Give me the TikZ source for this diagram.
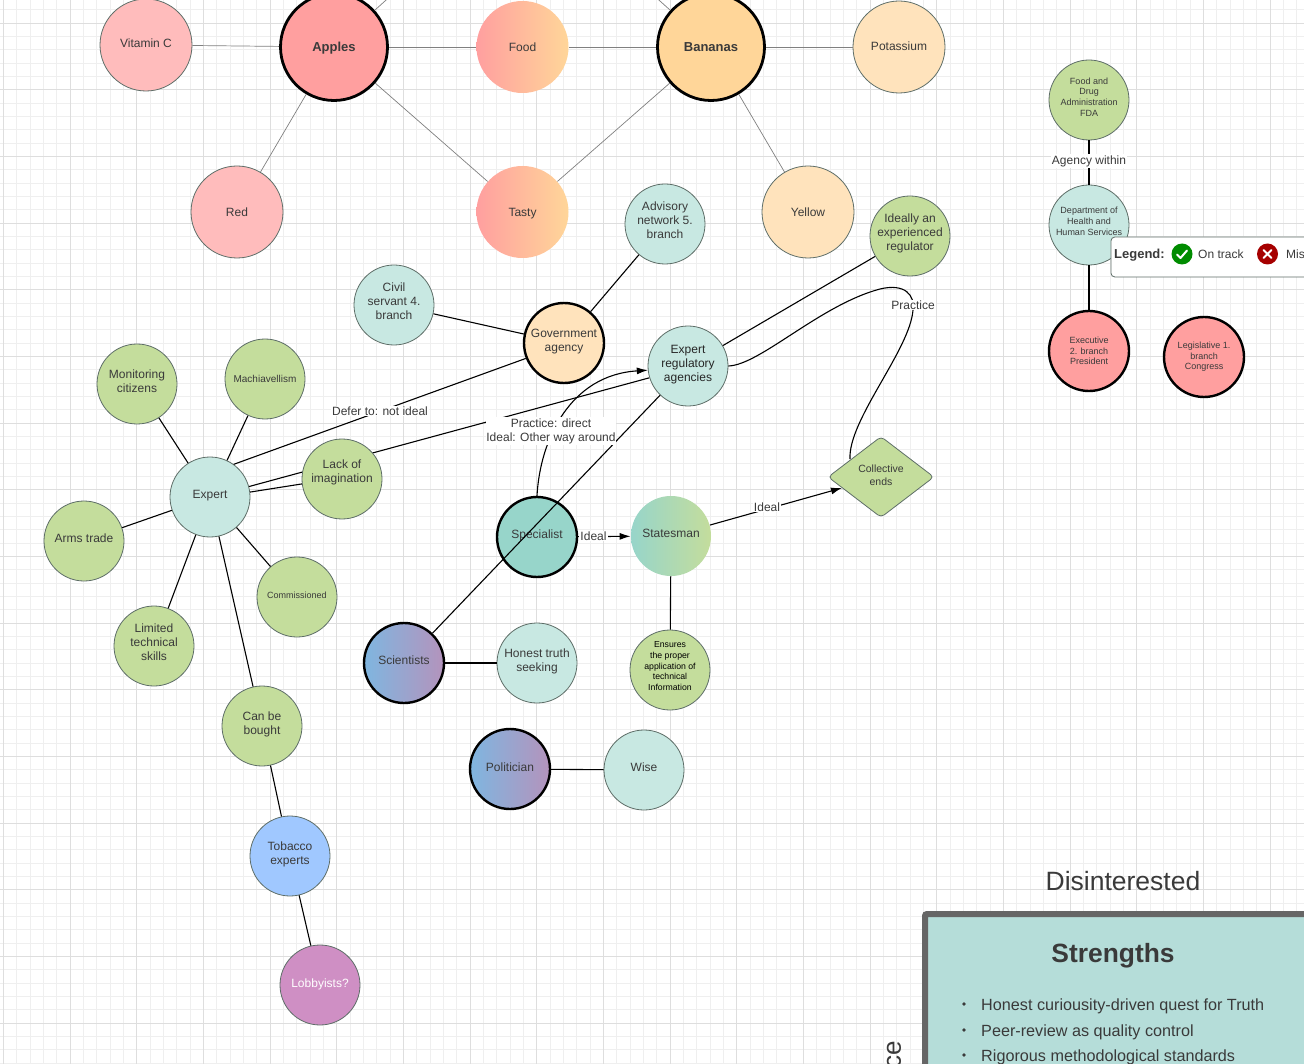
\documentclass[tikz,border=0pt]{standalone}
\usepackage{fontspec}
\setmainfont{Liberation Sans}
\usetikzlibrary{arrows.meta,shapes.geometric}
\pgfdeclarelayer{behind}
\pgfsetlayers{behind,main}
\newcommand\lift[2]{\vbox{\hbox{\begin{tabular}{@{}c@{}}#2\end{tabular}}\kern#1pt}}
\definecolor{txt}{HTML}{3A3A3A}
\definecolor{nodeedge}{HTML}{5E6E68}
\definecolor{teal}{HTML}{C8E8E2}
\definecolor{leaf}{HTML}{C4DD9C}
\definecolor{specteal}{HTML}{97D5CA}
\definecolor{pinkA}{HTML}{FF9F9F}
\definecolor{pinkB}{HTML}{FFBCBC}
\definecolor{orangeA}{HTML}{FFD699}
\definecolor{orangeB}{HTML}{FFE3BC}
\definecolor{skyblue}{HTML}{A0C8FF}
\definecolor{mauve}{HTML}{CF8FC4}
\definecolor{gradblue}{HTML}{7FB6E0}
\definecolor{gradmauve}{HTML}{B493BC}
\definecolor{panelfill}{HTML}{B5DDD9}
\definecolor{gridmajor}{HTML}{DEDEDE}
\definecolor{gridminor}{HTML}{EFEFEF}
\tikzset{
  every node/.style={text=txt,font=\fontsize{12}{14}\selectfont},
  bubble/.style={circle,inner sep=0pt,align=center,minimum size=80pt,draw=nodeedge,line width=0.8pt},
  big/.style={bubble,minimum size=92pt},
  hub/.style={bubble,minimum size=107pt,draw=black,line width=2.8pt,fill=#1,font=\fontsize{13}{15}\selectfont\bfseries},
  strong/.style={bubble,draw=black,line width=2.4pt},
  thinlink/.style={draw=black!50,line width=0.7pt},
  link/.style={draw=black,line width=1.1pt},
  tiplink/.style={link,-{Latex[length=11pt,width=7pt]}},
  edgelabel/.style={fill=white,inner sep=1pt},
  tiny/.style={font=\fontsize{9}{10.5}\selectfont},
}
\begin{document}
\begin{tikzpicture}[x=1pt,y=-1pt]
\useasboundingbox (0,0) rectangle (1304,1064);
\clip (0,0) rectangle (1304,1064);
\begin{pgfonlayer}{behind}
\fill[white] (0,0) rectangle (1304,1064);
\foreach \i in {0,...,98} \draw[gridminor,line width=0.8pt] ({3.33+13.333*\i},0) -- ++(0,1064);
\foreach \i in {0,...,80} \draw[gridminor,line width=0.8pt] (0,{9.67+13.333*\i}) -- ++(1304,0);
\foreach \i in {0,...,19} \draw[gridmajor,line width=0.8pt] ({3.33+66.667*\i},0) -- ++(0,1064);
\foreach \i in {0,...,16} \draw[gridmajor,line width=0.8pt] (0,{23+66.667*\i}) -- ++(1304,0);
\end{pgfonlayer}

\coordinate (offA) at (395,-8);
\coordinate (offB) at (650,-8);

% nodes
\node[big,fill=pinkB] (vitamin) at (146,45) {\lift{0}{Vitamin C}};
\node[hub=pinkA] (apples) at (334,47) {\lift{-4}{Apples}};
\node[big,draw=none,left color=pinkA,right color=orangeA] (food) at (522.5,47) {Food};
\node[hub=orangeA] (bananas) at (711,47) {\lift{-4}{Bananas}};
\node[big,fill=orangeB] (potassium) at (899,47) {\lift{-2}{Potassium}};
\node[big,fill=pinkB] (red) at (237,212) {Red};
\node[big,draw=none,left color=pinkA,right color=orangeA] (tasty) at (522.5,212) {\lift{-4}{Tasty}};
\node[big,fill=orangeB] (yellow) at (808,212) {Yellow};
\node[bubble,fill=teal] (advisory) at (665,224) {\lift{4}{Advisory\\network 5.\\branch}};
\node[bubble,fill=leaf] (ideally) at (910,236) {\lift{4}{Ideally an\\experienced\\regulator}};
\node[bubble,fill=teal] (civil) at (394,305) {\lift{5}{Civil\\servant 4.\\branch}};
\node[strong,fill=orangeB] (gov) at (564,343) {\lift{2}{Government\\agency}};
\node[bubble,fill=teal,text=black!85] (reg) at (688,366) {\lift{3}{Expert\\regulatory\\agencies}};
\node[bubble,fill=leaf] (monitor) at (137,384) {\lift{2}{Monitoring\\citizens}};
\node[bubble,fill=leaf,font=\fontsize{10}{12}\selectfont] (mach) at (265,379) {Machiavellism};
\node[bubble,fill=leaf] (lack) at (342,479) {\lift{12}{Lack of\\imagination}};
\node[bubble,fill=teal] (expert) at (210,497) {\lift{2}{Expert}};
\node[bubble,fill=leaf] (arms) at (84,541) {\lift{2}{Arms trade}};
\node[bubble,fill=leaf] (limited) at (154,646) {\lift{4}{Limited\\technical\\skills}};
\node[bubble,fill=leaf,tiny] (comm) at (297,597) {\lift{1}{Commissioned}};
\node[bubble,fill=leaf] (bought) at (262,726) {\lift{2}{Can be\\bought}};
\node[bubble,fill=skyblue] (tobacco) at (290,856) {\lift{2}{Tobacco\\experts}};
\node[bubble,fill=mauve,text=white] (lobby) at (320,985) {\lift{0}{Lobbyists?}};
\node[strong,fill=specteal] (spec) at (537,537) {\lift{2}{Specialist}};
\node[bubble,draw=none,left color=specteal,right color=leaf] (states) at (671,536) {\lift{2}{Statesman}};
\node[strong,left color=gradblue,right color=gradmauve] (sci) at (404,663) {\lift{2}{Scientists}};
\node[bubble,fill=teal] (honest) at (537,663) {\lift{2}{Honest truth\\seeking}};
\node[bubble,fill=leaf,text=black,font=\fontsize{8.7}{10.7}\selectfont] (ensures) at (670,670) {\lift{6}{Ensures\\the proper\\application of\\technical\\Information}};
\node[strong,left color=gradblue,right color=gradmauve] (pol) at (510,769) {\lift{0}{Politician}};
\node[bubble,fill=teal] (wise) at (644,770) {\lift{2}{Wise}};
\node[bubble,fill=leaf,font=\fontsize{9}{10.6}\selectfont] (fda) at (1089,100) {\lift{4}{Food and\\Drug\\Administration\\FDA}};
\node[bubble,fill=teal,font=\fontsize{9}{11}\selectfont] (dept) at (1089,225) {\lift{5}{Department of\\Health and\\Human Services}};
\node[strong,fill=pinkA,font=\fontsize{9}{10.5}\selectfont] (exec) at (1089,351) {Executive\\2. branch\\President};
\node[strong,fill=pinkA,font=\fontsize{9}{10.5}\selectfont] (leg) at (1204,357) {Legislative 1.\\branch\\Congress};
\node[diamond,draw=nodeedge,line width=0.8pt,fill=leaf,inner sep=0pt,minimum width=106pt,minimum height=81pt,aspect=1.3,align=center,rounded corners=4pt,font=\fontsize{10.5}{13}\selectfont] (ends) at (881,477) {\lift{2}{Collective\\ends}};

% thin links
\draw[thinlink] (vitamin) -- (apples);
\draw[thinlink] (apples) -- (food);
\draw[thinlink] (food) -- (bananas);
\draw[thinlink] (bananas) -- (potassium);
\draw[thinlink] (apples) -- (red);
\draw[thinlink] (apples) -- (tasty);
\draw[thinlink] (bananas) -- (tasty);
\draw[thinlink] (bananas) -- (yellow);
\draw[thinlink] (apples) -- (offA);
\draw[thinlink] (bananas) -- (offB);

% links
\begin{pgfonlayer}{behind}
\draw[link] (expert.15.7) -- (reg.197.5);
\end{pgfonlayer}
\draw[link] (gov) -- (advisory);
\draw[link] (gov) -- (civil);
\draw[link] (expert.54) -- (gov.202);
\draw[link] (expert) -- (monitor);
\draw[link] (expert) -- (mach);
\draw[link] (expert.7) -- (lack.187);
\draw[link] (expert) -- (arms);
\draw[link] (expert) -- (limited);
\draw[link] (expert) -- (comm);
\draw[link] (expert) -- (bought);
\draw[link] (bought) -- (tobacco);
\draw[link] (tobacco) -- (lobby);
\draw[link] (reg) -- (ideally);
\draw[link] (sci) -- (honest);
\draw[link] (pol) -- (wise);
\draw[link] (states) -- (ensures);
\draw[link] (fda) -- (dept);
\draw[link] (dept) -- (exec);
\draw[link] (sci) -- (reg);
\draw[tiplink] (spec.north) .. controls (540,440) and (570,375) .. (reg.186);
\draw[tiplink] (spec) -- (states);
\draw[tiplink] (states) -- (ends);
\coordinate (top1) at (880,289);
\coordinate (top2) at (913,310);
\coordinate (endfoot) at (850,459);
\draw[link] (reg.east) .. controls (760,365) and (820,305) .. (top1) .. controls (905,283) and (915,295) .. (top2) .. controls (910,350) and (848,420) .. (endfoot);

% labels
\node[edgelabel] (deferlabel) at (380,411) {Defer to: not ideal};
\node[edgelabel,align=center,minimum height=28pt,minimum width=127pt,inner sep=0pt] (practlabel) at (551,431) {Practice: direct\\Ideal: Other way around};
\node[edgelabel] (ideal1) at (593.5,536) {Ideal};
\node[edgelabel] (ideal2) at (767,507) {Ideal};
\node[edgelabel] (practice) at (913,305) {Practice};
\node[edgelabel] (within) at (1089,161) {Agency within};

% legend
\node[draw=nodeedge,fill=white,line width=0.8pt,rounded corners=4pt,minimum width=240pt,minimum height=40pt,anchor=west] (legend) at (1110.5,257) {};
\node[font=\fontsize{13}{15}\selectfont\bfseries,anchor=west,inner sep=0pt] (legendtitle) at (1114,255) {Legend:};
\node[circle,fill=green!55!black,minimum size=21pt,inner sep=0pt] (okdot) at (1182,254) {};
\draw[white,line width=2pt,line cap=round,line join=round] (1177,254.5) -- (1180.5,258) -- (1187,250.5);
\node[anchor=west,inner sep=0pt] (ontrack) at (1198,254.5) {On track};
\node[circle,fill=red!65!black,minimum size=21pt,inner sep=0pt] (nodot) at (1267.5,254) {};
\draw[white,line width=2pt,line cap=round] (1263.5,250) -- (1271.5,258) (1271.5,250) -- (1263.5,258);
\node[anchor=west,inner sep=0pt] (mis) at (1286,254.5) {Mis};

% text block
\node[font=\fontsize{26.5}{30}\selectfont] (disint) at (1123,881) {Disinterested};
\node[draw=black!60,fill=panelfill,line width=6pt,rounded corners=2pt,minimum width=385pt,minimum height=200pt,anchor=north west] (panel) at (922,911) {};
\node[font=\fontsize{26.4}{30}\selectfont\bfseries] (strengths) at (1113,955.5) {Strengths};
\node[font=\fontsize{16.2}{20}\selectfont,anchor=west,inner sep=0pt] (b1) at (981,1006) {Honest curiousity-driven quest for Truth};
\node[font=\fontsize{16.2}{20}\selectfont,anchor=west,inner sep=0pt] (b2) at (981,1032) {Peer-review as quality control};
\node[font=\fontsize{16.2}{20}\selectfont,anchor=west,inner sep=0pt] (b3) at (981,1057) {Rigorous methodological standards};
\foreach \y in {1004,1030,1055} \fill[txt] (964,\y) circle (1.9pt);
\node[font=\fontsize{26}{30}\selectfont,rotate=90,anchor=west,inner sep=0pt] (ce) at (894,1069) {ce};
\end{tikzpicture}
\end{document}
